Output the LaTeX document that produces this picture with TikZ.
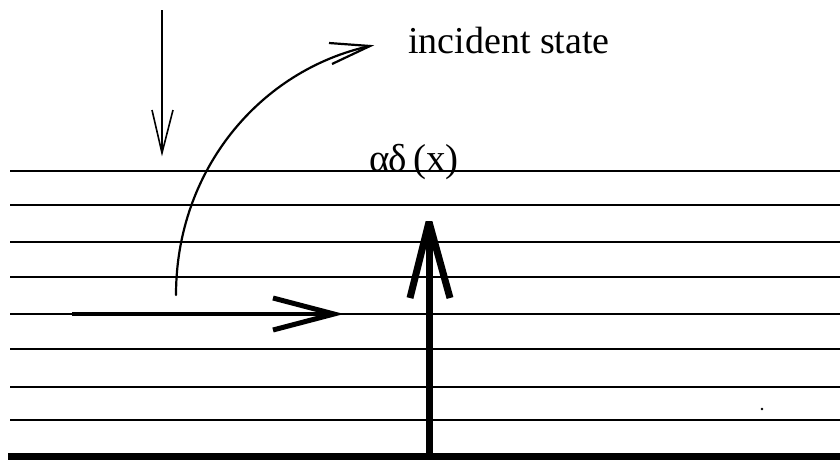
\documentclass[tikz,border=0pt]{standalone}
\usepackage{fontspec}
\setmainfont{Liberation Serif}
\begin{document}
\begin{tikzpicture}[x=1pt,y=-1pt,
  level/.style={line width=1.3pt},
  thinarrow/.style={line width=1.6pt},
  curvearrow/.style={line width=2.2pt},
  midarrow/.style={line width=4pt},
  bigarrow/.style={line width=7pt},
  lbl/.style={inner sep=0pt, anchor=base west}]
\useasboundingbox (0,0) rectangle (840,459);
% horizontal levels
\foreach \yy in {171,205,242,277,314,349,387,420}{
  \draw[level] (10,\yy) -- (840,\yy);
}
\draw[line width=7pt] (8,456) -- (840,456);
% down arrow
\coordinate (dA) at (162,10);
\coordinate (dB) at (162,153);
\draw[thinarrow] (dA) -- (dB);
\draw[thinarrow, line join=miter] (152,110) -- (dB) -- (173,110);
% curved arrow
\coordinate (cA) at (176,295);
\coordinate (cB) at (370,46);
\draw[curvearrow, line cap=round] (cA) .. controls (176,170) and (260,70) .. (cB);
\draw[curvearrow] (329,43) -- (cB) -- (332,64);
% horizontal thick arrow
\coordinate (hA) at (72,314);
\coordinate (hB) at (334,314);
\draw[midarrow] (hA) -- (hB);
\draw[line width=5pt] (273,298) -- (hB) -- (273,330);
% vertical big arrow
\coordinate (vA) at (429,459);
\coordinate (vB) at (429,222);
\draw[bigarrow] (vA) -- (vB);
\draw[bigarrow, line join=bevel] (410,298) -- (vB) -- (450,298);
% labels
\node[lbl, font=\fontsize{38}{40}\selectfont] (inc) at (408,53) {incident state};
\node[lbl, font=\fontsize{39}{41}\selectfont] (ad) at (369,171) {α\kern-1ptδ\,(x)};
% speck
\fill (762,409) circle (1.3);
\end{tikzpicture}
\end{document}
